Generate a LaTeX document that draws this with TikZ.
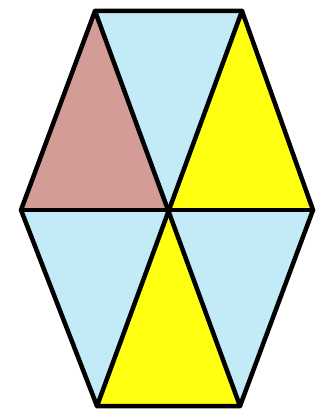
\documentclass[tikz,border=0pt]{standalone}
\usepackage{xcolor}
\usepackage{tikz}
\definecolor{skyblue}{HTML}{C2EAF7}
\definecolor{lemon}{HTML}{FFFF12}
\definecolor{rosebrown}{HTML}{D49C96}
\tikzset{
  tri/.style={draw=black,line width=4.5pt,line join=round},
  edge/.style={draw=black,line width=4.5pt,line cap=round}
}
\begin{document}
\begin{tikzpicture}[x=1pt,y=-1pt]
  \useasboundingbox (0,0) rectangle (323,419);
  \fill[white] (0,0) rectangle (323,419);
  \coordinate (tl) at (95,11);
  \coordinate (tr) at (242,11);
  \coordinate (r) at (313,210);
  \coordinate (br) at (240,406);
  \coordinate (bl) at (97,406);
  \coordinate (l) at (21,210);
  \coordinate (c) at (168,210);

  \fill[skyblue] (tl) -- (tr) -- (c) -- cycle;
  \fill[lemon] (tr) -- (r) -- (c) -- cycle;
  \fill[skyblue] (r) -- (br) -- (c) -- cycle;
  \fill[lemon] (br) -- (bl) -- (c) -- cycle;
  \fill[skyblue] (bl) -- (l) -- (c) -- cycle;
  \fill[rosebrown] (l) -- (tl) -- (c) -- cycle;

  \draw[tri] (tl) -- (tr) -- (r) -- (br) -- (bl) -- (l) -- cycle;
  \draw[edge] (tl) -- (br);
  \draw[edge] (tr) -- (bl);
  \draw[edge] (l) -- (r);
\end{tikzpicture}
\end{document}
